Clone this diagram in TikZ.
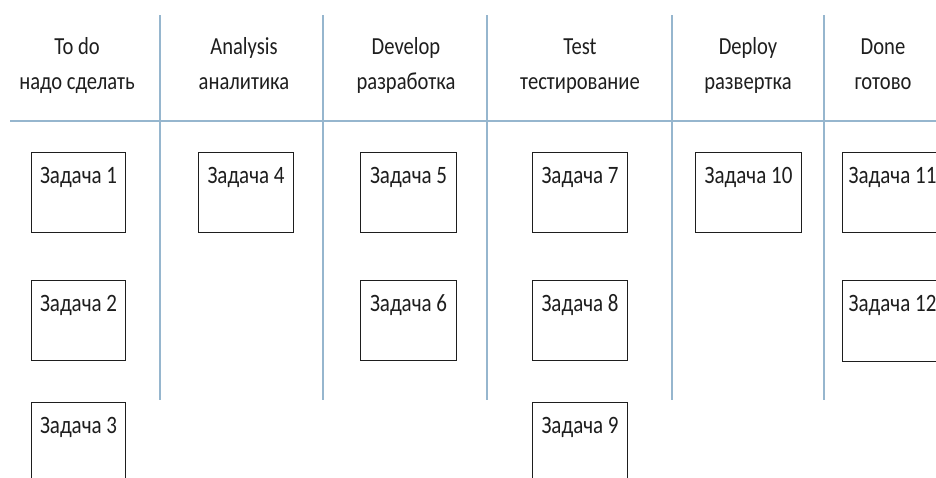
\documentclass[tikz,border=0pt]{standalone}
\usepackage{fontspec}
\setmainfont{Carlito}
\newfontfamily\narrowfont[FakeStretch=0.84]{Carlito}
\definecolor{gridblue}{RGB}{150,182,206}
\definecolor{inkgray}{RGB}{30,30,30}
\begin{document}
\begin{tikzpicture}[x=1pt,y=1pt,
  gridline/.style={draw=gridblue,line width=1.4pt},
  taskbox/.style={draw=inkgray,line width=1.1pt,fill=white,anchor=north west,inner sep=0pt},
  tasklabel/.style={anchor=base,inner sep=0pt,text=inkgray,font=\narrowfont\fontsize{25}{28}\selectfont},
  headtext/.style={anchor=base,inner sep=0pt,text=inkgray,font=\narrowfont\fontsize{24.5}{28}\selectfont}]
\useasboundingbox (0,0) rectangle (936,-477);
\clip (0,0) rectangle (936,-477);
\fill[white] (0,0) rectangle (936,-477);
% grid
\coordinate (hl) at (10,-121);
\coordinate (hr) at (940,-121);
\draw[gridline] (hl) -- (hr);
\foreach \x/\n in {160/a,323/b,487/c,672/d,824/e}{
  \coordinate (v\n t) at (\x,-15);
  \coordinate (v\n b) at (\x,-400);
  \draw[gridline] (v\n t) -- (v\n b);
}
% headers
\node[headtext] (h1a) at (77,-54) {To do};
\node[headtext] (h1b) at (77,-89) {надо сделать};
\node[headtext] (h2a) at (244,-54) {Analysis};
\node[headtext] (h2b) at (244,-89) {аналитика};
\node[headtext] (h3a) at (406,-54) {Develop};
\node[headtext] (h3b) at (406,-89) {разработка};
\node[headtext] (h4a) at (580,-54) {Test};
\node[headtext] (h4b) at (580,-89) {тестирование};
\node[headtext] (h5a) at (748,-54) {Deploy};
\node[headtext] (h5b) at (748,-89) {развертка};
\node[headtext] (h6a) at (883,-54) {Done};
\node[headtext] (h6b) at (883,-89) {готово};
% tasks
\foreach \n/\x/\y/\w/\h in {
  1/31/152/94/80, 2/31/280/94/80, 3/31/402/94/90,
  4/198/152/95/80,
  5/360/152/96/80, 6/360/280/96/80,
  7/532/152/95/80, 8/532/280/95/80, 9/532/402/95/90,
  10/695/152/106/80,
  11/842/152/100/80, 12/842/280/100/81}{
  \node[taskbox,minimum width=\w pt,minimum height=\h pt] (t\n) at (\x,-\y) {};
  \node[tasklabel] (l\n) at ([yshift=-31pt]t\n.north) {Задача \n};
}
\end{tikzpicture}
\end{document}
